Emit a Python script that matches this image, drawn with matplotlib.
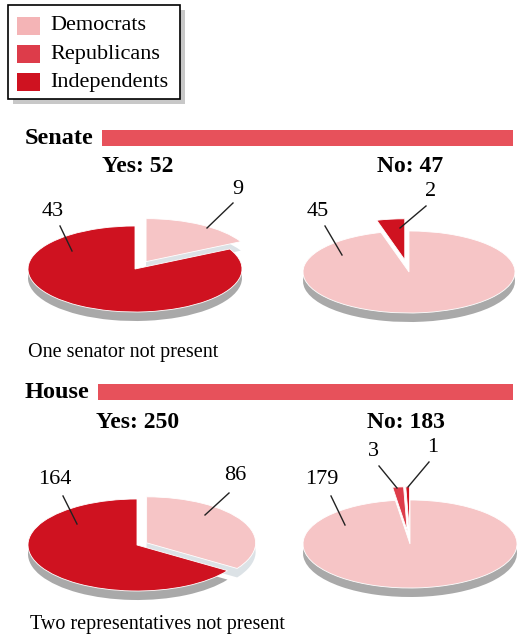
import matplotlib.pyplot as plt
from matplotlib.patches import Rectangle

# legend / party data
parties = ["Democrats", "Republicans", "Independents"]

# vote totals
senate_yes_total = 52
senate_no_total = 47
house_yes_total = 250
house_no_total = 183

# slice values (order drawn counter-clockwise from 12 o'clock)
senate_yes_values = [43, 9]
senate_no_values = [2, 45]
house_yes_values = [164, 86]
house_no_values = [1, 3, 179]

senate_note = "One senator not present"
house_note = "Two representatives not present"

# styles
PINK = "#F6C5C6"
LEG_PINK = "#F4B4B6"
MIDRED = "#DD3C4A"
DARKRED = "#CF1220"
BAR = "#E7515B"
GRAY = "#A9A9A9"
SIDE = "#DCE2E6"
party_colors = {"Democrats": LEG_PINK, "Republicans": MIDRED, "Independents": DARKRED}

plt.rcParams['font.family'] = ['Liberation Serif', 'DejaVu Serif']

W, H = 518, 638
fig = plt.figure(figsize=(W / 100, H / 100), dpi=100)
ax = fig.add_axes([0, 0, 1, 1], zorder=10)
ax.set_xlim(0, W)
ax.set_ylim(H, 0)
ax.axis('off')

# legend box with drop shadow
ax.add_patch(Rectangle((13, 10), 172, 94, facecolor="#C8C8C8", edgecolor="none"))
ax.add_patch(Rectangle((8, 5), 172, 94, facecolor="white", edgecolor="black", linewidth=1.2))
for i, p in enumerate(parties):
    y = 26 + i * 28
    ax.add_patch(Rectangle((17, y - 9), 23, 18, facecolor=party_colors[p], edgecolor="none"))
    ax.text(50, y, p, fontsize=16, va='center', ha='left')


def section(title, y, bar_x):
    ax.text(25, y, title, fontsize=17.5, fontweight='bold', va='center', ha='left')
    ax.add_patch(Rectangle((bar_x, y - 8), 513 - bar_x, 16, facecolor=BAR, edgecolor="none"))


section("Senate", 138, 102)
section("House", 392, 98)

ax.text(138, 167, f"Yes: {senate_yes_total}", fontsize=17, fontweight='bold', ha='center', va='center')
ax.text(410, 167, f"No: {senate_no_total}", fontsize=17, fontweight='bold', ha='center', va='center')
ax.text(138, 422, f"Yes: {house_yes_total}", fontsize=17, fontweight='bold', ha='center', va='center')
ax.text(406, 422, f"No: {house_no_total}", fontsize=17, fontweight='bold', ha='center', va='center')

ax.text(28, 352, senate_note, fontsize=14.5, ha='left', va='center')
ax.text(30, 624, house_note, fontsize=14.5, ha='left', va='center')


def pie3d(cx, cy, rx, ry, values, colors, explode, side, depth=9):
    pax = fig.add_axes([(cx - 1.5 * rx) / W, 1 - (cy + 1.5 * ry) / H, 3 * rx / W, 3 * ry / H], zorder=5)
    d = depth / ry
    shadow = [GRAY if e == 0 else side for e in explode]
    pax.pie(values, colors=shadow, startangle=90, counterclock=True,
            explode=explode, center=(0, -d), wedgeprops=dict(linewidth=0))
    pax.pie(values, colors=colors, startangle=90, counterclock=True,
            explode=explode, center=(0, 0),
            wedgeprops=dict(linewidth=0.6, edgecolor="white"))
    pax.set_aspect('auto')
    pax.set_xlim(-1.5, 1.5)
    pax.set_ylim(-1.5, 1.5)
    pax.axis('off')


pie3d(135, 269, 107, 43, senate_yes_values, [DARKRED, PINK], [0, 0.2], SIDE)
pie3d(409, 272, 106, 41, senate_no_values, [DARKRED, PINK], [0.3, 0], "none")
pie3d(137, 545, 109, 46, house_yes_values, [DARKRED, PINK], [0, 0.1], SIDE)
pie3d(410, 544, 107, 44, house_no_values, [DARKRED, MIDRED, PINK], [0.3, 0.3, 0], "none")


def label(txt, tx, ty, x0, y0, x1, y1):
    ax.text(tx, ty, txt, fontsize=16, ha='center', va='center')
    ax.plot([x0, x1], [y0, y1], color="#222222", linewidth=1)


# Senate labels
label(str(senate_yes_values[0]), 53, 212, 60, 226, 72, 251)
label(str(senate_yes_values[1]), 238, 189, 233, 203, 207, 228)
label(str(senate_no_values[1]), 318, 212, 325, 226, 342, 255)
label(str(senate_no_values[0]), 431, 192, 426, 206, 400, 228)
# House labels
label(str(house_yes_values[0]), 55, 480, 63, 496, 77, 524)
label(str(house_yes_values[1]), 235, 476, 229, 493, 205, 515)
label(str(house_no_values[2]), 322, 479, 331, 496, 345, 525)
label(str(house_no_values[1]), 373, 451, 379, 466, 397, 488)
label(str(house_no_values[0]), 433, 447, 429, 462, 408, 487)

fig.savefig("out.png", dpi=100)
